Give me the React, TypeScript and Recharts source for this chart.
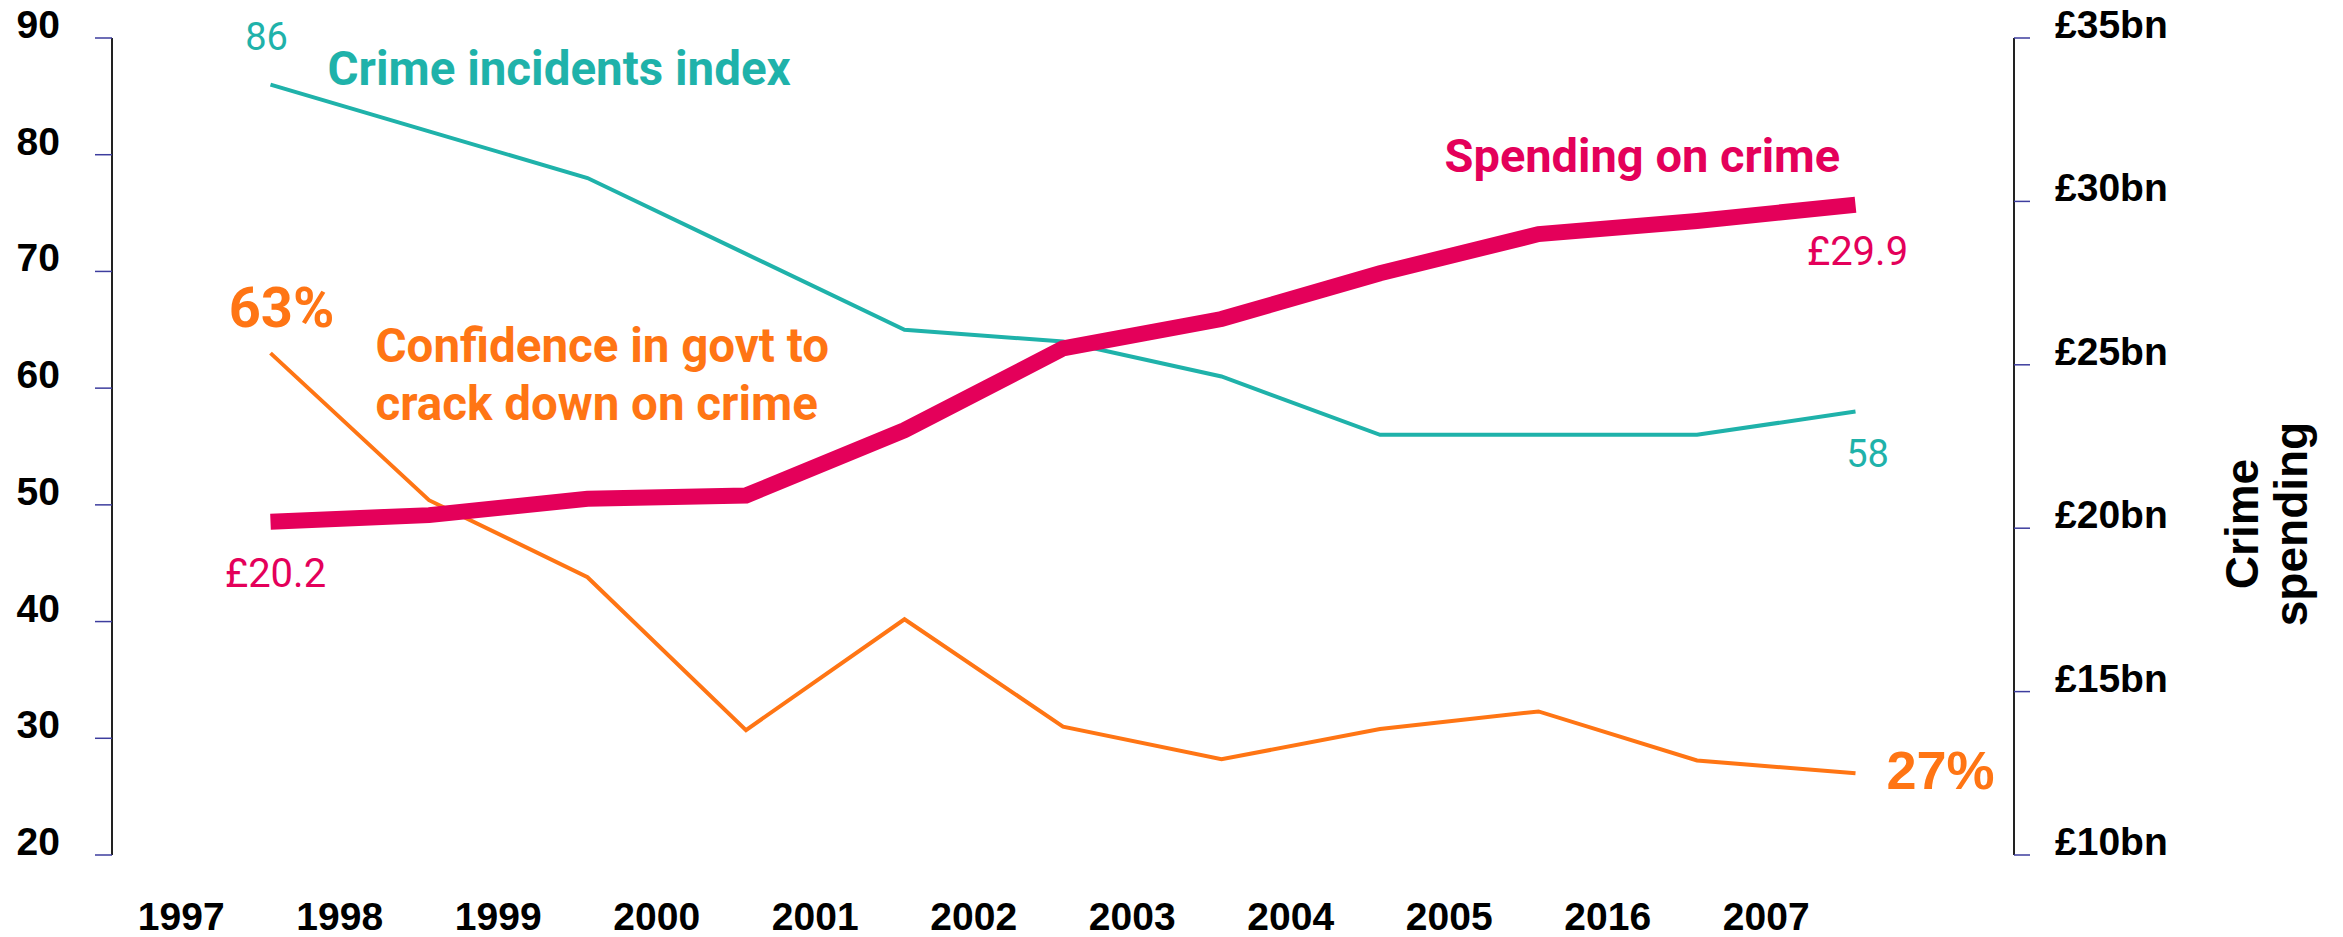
import { LineChart, Line, XAxis, YAxis, LabelList, Label } from 'recharts';

const years = ['1997', '1998', '1999', '2000', '2001', '2002', '2003', '2004', '2005', '2016', '2007'];
const crimeIndex = [86, 82, 78, 71.5, 65, 64, 61, 56, 56, 56, 58];
const confidence = [63, 50.4, 43.8, 30.7, 40.2, 31, 28.2, 30.8, 32.3, 28.1, 27];
const spending = [20.2, 20.4, 20.9, 21.0, 23.0, 25.5, 26.4, 27.8, 29.0, 29.4, 29.9];

const leftTicks = [20, 30, 40, 50, 60, 70, 80, 90];
const rightTicks = [10, 15, 20, 25, 30, 35];
const gridTicks = [0, 1, 2, 3, 4, 5, 6, 7, 8, 9, 10, 11, 12];
const yearTicks = years.map((_, i) => i + 0.5);

const data = years.map((_, i) => ({
  pos: i + 1,
  crime: crimeIndex[i],
  confidence: confidence[i],
  spending: spending[i],
}));

const TEAL = '#1fb2aa';
const ORANGE = '#ff7514';
const PINK = '#e4005a';
const AXIS = '#222222';
const TICK = '#3d3d9e';
const ARIAL = "'Liberation Sans', Arial, sans-serif";
const ROBOTO = 'Roboto, sans-serif';

interface Note {
  index: number;
  text: string;
  dx: number;
  dy: number;
  anchor: 'start' | 'middle' | 'end';
  size: number;
  bold?: boolean;
  font?: string;
}

const last = years.length - 1;

const crimeNotes: Note[] = [
  { index: 0, text: String(crimeIndex[0]), dx: -4, dy: -35, anchor: 'middle', size: 38 },
  { index: 0, text: 'Crime incidents index', dx: 57, dy: 0, anchor: 'start', size: 47.5, bold: true },
  { index: last, text: String(crimeIndex[last]), dx: 12, dy: 56, anchor: 'middle', size: 38 },
];

const confidenceNotes: Note[] = [
  { index: 0, text: `${confidence[0]}%`, dx: 11, dy: -26, anchor: 'middle', size: 56, bold: true },
  { index: 0, text: 'Confidence in govt to', dx: 105, dy: 9, anchor: 'start', size: 47.5, bold: true },
  { index: 0, text: 'crack down on crime', dx: 105, dy: 67, anchor: 'start', size: 47.5, bold: true },
  { index: last, text: `${confidence[last]}%`, dx: 31, dy: 16, anchor: 'start', size: 54, bold: true, font: ARIAL },
];

const spendingNotes: Note[] = [
  { index: 0, text: `£${spending[0]}`, dx: 5, dy: 65, anchor: 'middle', size: 40 },
  { index: last, text: `£${spending[last]}`, dx: 2, dy: 60, anchor: 'middle', size: 40 },
  { index: last, text: 'Spending on crime', dx: -411, dy: -33, anchor: 'start', size: 47, bold: true },
];

const noteRenderer = (notes: Note[], color: string) => (props: any) => {
  const vb = props.viewBox ?? {};
  const x = props.x ?? vb.x;
  const y = props.y ?? vb.y;
  const here = notes.filter((n) => n.index === props.index);
  if (!here.length || x == null || y == null) return null;
  return (
    <g>
      {here.map((n, k) => (
        <text
          key={k}
          x={x + n.dx}
          y={y + n.dy}
          textAnchor={n.anchor}
          fill={color}
          fontFamily={n.font ?? ROBOTO}
          fontWeight={n.bold ? 700 : 400}
          fontSize={n.size}
        >
          {n.text}
        </text>
      ))}
    </g>
  );
};

const LeftTick = ({ x, y, payload }: any) => (
  <text x={x - 35} y={y} textAnchor="end" fontFamily={ARIAL} fontWeight={700} fontSize={39} fill="#000">
    {payload.value}
  </text>
);

const RightTick = ({ x, y, payload }: any) => (
  <text x={x + 25} y={y} textAnchor="start" fontFamily={ARIAL} fontWeight={700} fontSize={39} fill="#000">
    £{payload.value}bn
  </text>
);

const YearTick = ({ x, y, payload }: any) => (
  <text x={x - 10} y={y + 75} textAnchor="middle" fontFamily={ARIAL} fontWeight={700} fontSize={39} fill="#000">
    {years[Math.floor(payload.value)]}
  </text>
);

const SpendingTitle = ({ viewBox }: any) => {
  const cy = 524;
  const x1 = viewBox.x + 244;
  const x2 = viewBox.x + 293;
  return (
    <g fontFamily={ARIAL} fontWeight={700} fontSize={46} fill="#000">
      <text x={x1} y={cy} textAnchor="middle" transform={`rotate(-90, ${x1}, ${cy})`}>
        Crime
      </text>
      <text x={x2} y={cy} textAnchor="middle" transform={`rotate(-90, ${x2}, ${cy})`}>
        spending
      </text>
    </g>
  );
};

export default function App() {
  return (
    <div style={{ position: 'absolute', left: 0, top: 0, background: '#fff' }}>
      <LineChart width={2343} height={937} data={data} margin={{ top: 38, right: 129, bottom: 0, left: 0 }}>
        <XAxis
          xAxisId="grid"
          dataKey="pos"
          type="number"
          domain={[0, 12]}
          ticks={gridTicks}
          interval={0}
          height={0}
          tickSize={17}
          axisLine={{ stroke: AXIS, strokeWidth: 2 }}
          tickLine={{ stroke: TICK, strokeWidth: 1.5 }}
          tick={() => <g />}
        />
        <XAxis
          xAxisId="years"
          dataKey="pos"
          type="number"
          domain={[0, 12]}
          ticks={yearTicks}
          interval={0}
          height={82}
          tickSize={0}
          tickMargin={0}
          axisLine={false}
          tickLine={false}
          tick={<YearTick />}
        />
        <YAxis
          yAxisId="left"
          domain={[20, 90]}
          ticks={leftTicks}
          interval={0}
          width={112}
          tickSize={17}
          tickMargin={0}
          axisLine={{ stroke: AXIS, strokeWidth: 2 }}
          tickLine={{ stroke: TICK, strokeWidth: 1.5 }}
          tick={<LeftTick />}
        />
        <YAxis
          yAxisId="right"
          orientation="right"
          domain={[10, 35]}
          ticks={rightTicks}
          interval={0}
          width={200}
          tickSize={16}
          tickMargin={0}
          axisLine={{ stroke: AXIS, strokeWidth: 2 }}
          tickLine={{ stroke: TICK, strokeWidth: 1.5 }}
          tick={<RightTick />}
        >
          <Label content={<SpendingTitle />} />
        </YAxis>

        <Line
          xAxisId="grid"
          yAxisId="left"
          dataKey="crime"
          stroke={TEAL}
          strokeWidth={4}
          dot={false}
          isAnimationActive={false}
        >
          <LabelList dataKey="crime" content={noteRenderer(crimeNotes, TEAL)} />
        </Line>
        <Line
          xAxisId="grid"
          yAxisId="left"
          dataKey="confidence"
          stroke={ORANGE}
          strokeWidth={4}
          dot={false}
          isAnimationActive={false}
        >
          <LabelList dataKey="confidence" content={noteRenderer(confidenceNotes, ORANGE)} />
        </Line>
        <Line
          xAxisId="grid"
          yAxisId="right"
          dataKey="spending"
          stroke={PINK}
          strokeWidth={16}
          dot={false}
          isAnimationActive={false}
        >
          <LabelList dataKey="spending" content={noteRenderer(spendingNotes, PINK)} />
        </Line>
      </LineChart>
    </div>
  );
}
